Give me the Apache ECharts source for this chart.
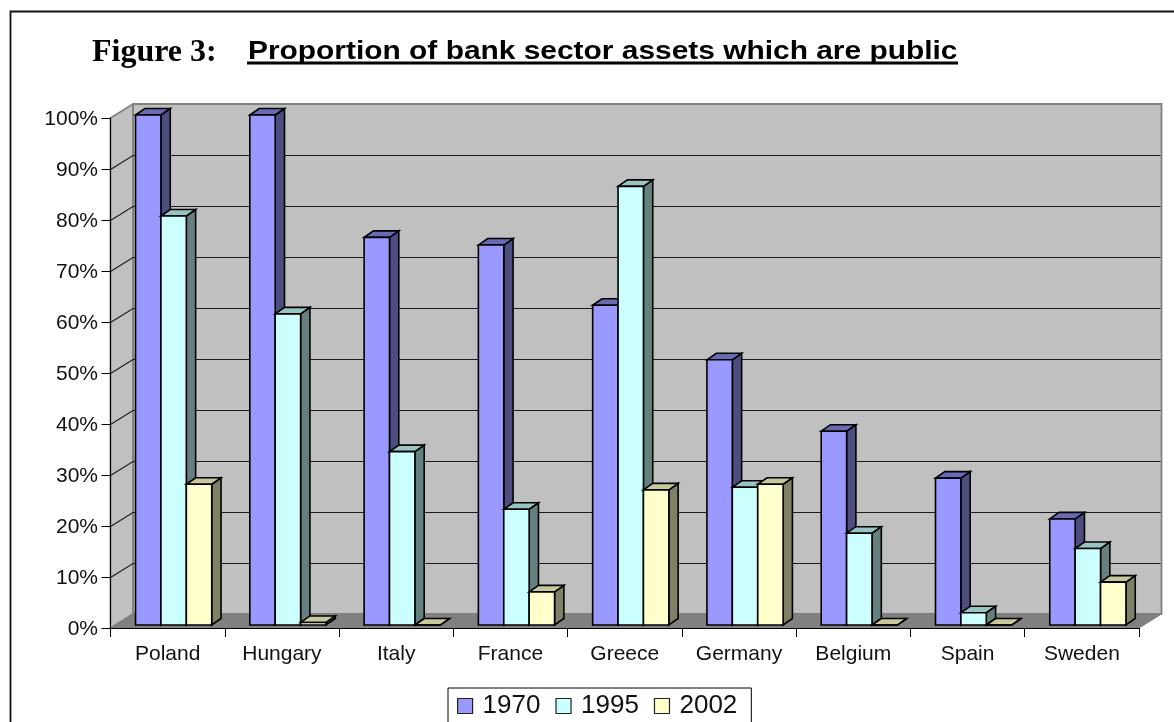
<!DOCTYPE html>
<html>
<head>
<meta charset="utf-8">
<style>html,body{margin:0;padding:0;background:#fff}#chart{width:1174px;height:722px}</style>
<script src="https://cdn.jsdelivr.net/npm/echarts@6/dist/echarts.min.js"></script>
</head>
<body>
<div id="chart"></div>
<script>
const categories = ['Poland', 'Hungary', 'Italy', 'France', 'Greece', 'Germany', 'Belgium', 'Spain', 'Sweden'];
const years = ['1970', '1995', '2002'];
const values1970 = [100, 100, 76, 74.5, 62.7, 52, 38, 28.8, 20.8];
const values1995 = [80.2, 61, 34, 22.7, 86, 27, 18, 2.4, 15];
const values2002 = [27.6, 0.5, 0, 6.5, 26.5, 27.6, 0, 0, 8.4];
const yTicks = [10, 20, 30, 40, 50, 60, 70, 80, 90];

// Excel-style 3D look: wall depth, bar depth, and where bars sit inside the floor
const wallDepth = [22.5, -14];
const barDepth = [9.3, -6.5];
const barShift = [6, -3];
const barShare = 1 / 4.5;

const faces = [
  { front: '#9999FF', side: '#4D4D80', top: '#6A6AB4' },
  { front: '#CCFFFF', side: '#668080', top: '#99C4C4' },
  { front: '#FFFFCC', side: '#808066', top: '#C8C89C' }
];
const outline = { stroke: '#000', lineWidth: 1.6, lineJoin: 'miter' };

function poly(points, fill, style) {
  return { type: 'polygon', shape: { points }, style: Object.assign({ fill }, style) };
}

// Back wall, side wall and floor of the plot box
function renderWalls(params, api) {
  const c = params.coordSys;
  const [dx, dy] = wallDepth;
  const l = c.x, r = c.x + c.width, t = c.y, b = c.y + c.height;
  const edge = { stroke: '#808080', lineWidth: 1.8 };
  return {
    type: 'group',
    children: [
      poly([[l + dx, t + dy], [r + dx, t + dy], [r + dx, b + dy], [l + dx, b + dy]], '#C0C0C0', edge),
      poly([[l, t], [l + dx, t + dy], [l + dx, b + dy], [l, b]], '#C0C0C0', edge),
      poly([[l, b], [l + dx, b + dy], [r + dx, b + dy], [r, b]], '#808080', { stroke: '#808080', lineWidth: 1 })
    ]
  };
}

// One gridline bent across the side wall and the back wall
function renderGridline(params, api) {
  const c = params.coordSys;
  const y = Math.round(api.coord([0, api.value(0)])[1]) + 0.5;
  const [dx, dy] = wallDepth;
  return {
    type: 'polyline',
    shape: { points: [[c.x, y], [c.x + dx, y + dy], [c.x + c.width + dx - 1, y + dy]] },
    style: { fill: null, stroke: '#1c1c1c', lineWidth: 1.2 }
  };
}

function barRenderer(order) {
  return function (params, api) {
    const p = api.coord([api.value(0), api.value(1)]);
    const zero = api.coord([api.value(0), 0]);
    const w = api.size([1, 0])[0] * barShare;
    const x0 = p[0] + (order - 1.5) * w + barShift[0];
    const x1 = x0 + w;
    const top = p[1] + barShift[1];
    const base = zero[1] + barShift[1];
    const [dx, dy] = barDepth;
    const f = faces[order];
    return {
      type: 'group',
      children: [
        poly([[x1, top], [x1 + dx, top + dy], [x1 + dx, base + dy], [x1, base]], f.side, outline),
        poly([[x0, top], [x0 + dx, top + dy], [x1 + dx, top + dy], [x1, top]], f.top, outline),
        poly([[x0, top], [x1, top], [x1, base], [x0, base]], f.front, outline)
      ]
    };
  };
}

function barSeries(order, values) {
  return {
    type: 'custom',
    name: years[order],
    renderItem: barRenderer(order),
    encode: { x: 0, y: 1 },
    itemStyle: { color: faces[order].front },
    data: values.map((v, i) => [i, v]),
    z: 4 + order,
    silent: true,
    clip: false
  };
}

const chart = echarts.init(document.getElementById('chart'), null, { renderer: 'canvas' });
chart.setOption({
  animation: false,
  backgroundColor: '#fff',
  textStyle: { fontFamily: 'Liberation Sans' },
  title: {
    text: 'Figure 3:', left: 92, top: 37, padding: 0,
    textStyle: { fontFamily: 'Liberation Serif', fontWeight: 'bold', fontSize: 32, color: '#000' }
  },
  graphic: [
    // Frame runs off the right and bottom of the page
    { type: 'rect', z: 10, silent: true, shape: { x: 10.5, y: 11.5, width: 1200, height: 760 }, style: { fill: null, stroke: '#111', lineWidth: 1.8 } },
    {
      type: 'text', z: 10, silent: true, x: 248, y: 39, scaleX: 1.15,
      style: { text: 'Proportion of bank sector assets which are public', font: 'bold 26px "Liberation Sans"', fill: '#000' }
    },
    { type: 'rect', z: 10, silent: true, shape: { x: 247, y: 61.5, width: 711, height: 3 }, style: { fill: '#000' } }
  ],
  grid: { left: 110.5, right: 35, top: 118, bottom: 94, containLabel: false },
  xAxis: {
    type: 'category',
    data: categories,
    z: 8,
    axisLine: { lineStyle: { color: '#000', width: 1 } },
    axisTick: { show: true, alignWithLabel: false, length: 9, lineStyle: { color: '#000' } },
    axisLabel: { color: '#111', fontSize: 21, margin: 16, interval: 0 },
    splitLine: { show: false }
  },
  yAxis: {
    type: 'value',
    min: 0,
    max: 100,
    interval: 10,
    z: 8,
    axisLine: { show: true, lineStyle: { color: '#000', width: 1 } },
    axisTick: { show: true, length: 9, lineStyle: { color: '#000' } },
    axisLabel: { color: '#111', fontSize: 21, margin: 12.5, verticalAlign: 'top', lineHeight: 3, formatter: '{value}%' },
    splitLine: { show: false }
  },
  legend: {
    left: 448,
    top: 688,
    orient: 'horizontal',
    icon: 'rect',
    itemWidth: 15,
    itemHeight: 15,
    itemGap: 15,
    padding: [5, 14, 30, 9],
    backgroundColor: '#fff',
    borderColor: '#000',
    borderWidth: 1,
    textStyle: { fontFamily: 'Liberation Sans', fontSize: 26, color: '#111', padding: [0, 0, 0, 5] },
    data: years.map((y, i) => ({
      name: y,
      icon: 'rect',
      itemStyle: { color: faces[i].front, borderColor: '#222', borderWidth: 1.2 }
    })),
    selectedMode: false
  },
  series: [
    { type: 'custom', renderItem: renderWalls, data: [[0, 0]], encode: { x: 0, y: 1 }, z: 1, silent: true, clip: false },
    { type: 'custom', renderItem: renderGridline, data: yTicks.map(v => [v]), encode: { y: 0 }, z: 2, silent: true, clip: false },
    barSeries(0, values1970),
    barSeries(1, values1995),
    barSeries(2, values2002)
  ]
});
</script>
</body>
</html>
